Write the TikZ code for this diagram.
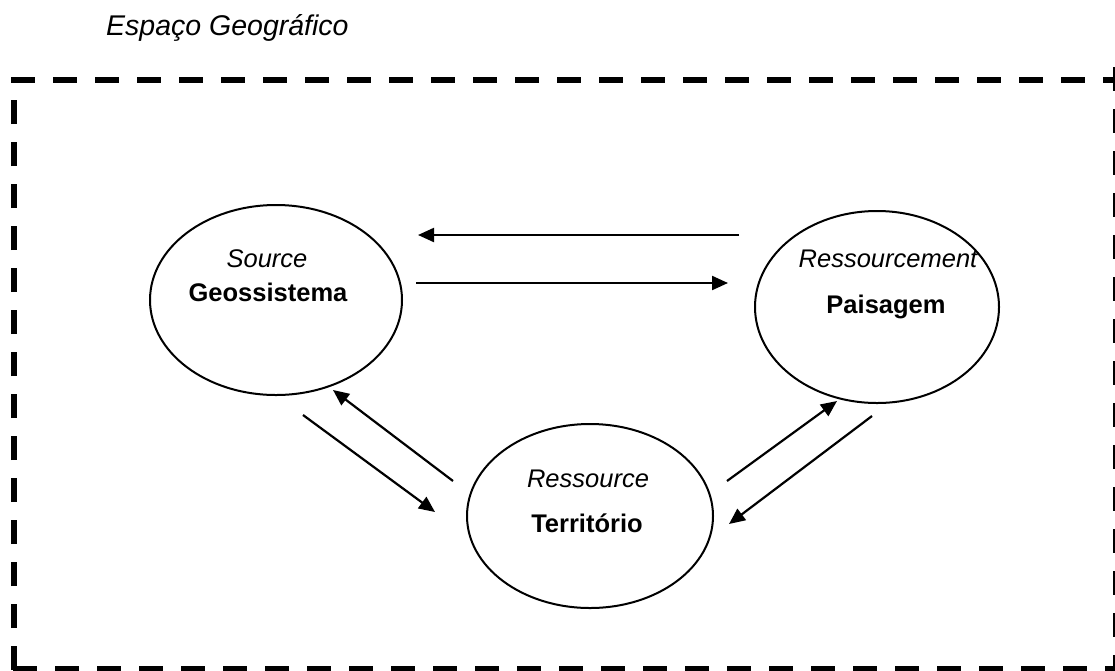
\documentclass[tikz,border=0pt]{standalone}
\usepackage{fontspec}
\setmainfont{Liberation Sans}
\usetikzlibrary{shapes.geometric,arrows.meta}
\begin{document}
\begin{tikzpicture}[x=1pt,y=-1pt,
  lbl/.style={inner sep=0pt,anchor=base,font=\fontsize{25.5}{30}\selectfont},
  oval/.style={draw,ellipse,line width=2pt,inner sep=0pt},
  conn/.style={line width=2.2pt,-{Triangle[length=16pt,width=14pt]}},
  border/.style={line width=5.5pt,dash pattern=on 24pt off 18pt}]
\useasboundingbox (0,0) rectangle (1115,670);
\fill[white] (0,0) rectangle (1115,670);
% title
\node[lbl,anchor=base west,font=\fontsize{28.5}{33}\selectfont] (title) at (106,35) {\itshape Espaço Geográfico};
% dashed frame
\coordinate (tl) at (11,80);  \coordinate (tr) at (1130,80);
\coordinate (rt) at (1116,67); \coordinate (rb) at (1116,680);
\coordinate (lb) at (14,670); \coordinate (lt) at (14,77);
\coordinate (bl) at (13,669); \coordinate (br) at (1130,669);
\draw[border] (tl) -- (tr);
\draw[border] (rt) -- (rb);
\draw[border] (lb) -- (lt);
\draw[border] (bl) -- (br);
% ellipses
\node[oval,minimum width=252pt,minimum height=190pt] (geo) at (276,300) {};
\node[oval,minimum width=244pt,minimum height=192pt] (pai) at (877,307) {};
\node[oval,minimum width=246pt,minimum height=184pt] (ter) at (590,516) {};
% texts
\node[lbl] (src) at (267,267) {\itshape Source};
\node[lbl] (geot) at (268,301) {\bfseries Geossistema};
\node[lbl] (rsm) at (888,267) {\itshape Ressourcement};
\node[lbl] (pait) at (886,313) {\bfseries Paisagem};
\node[lbl] (rss) at (588,487) {\itshape Ressource};
\node[lbl] (tert) at (587,532) {\bfseries Território};
% arrows
\coordinate (a1s) at (739,235); \coordinate (a1e) at (418,235);
\coordinate (a2s) at (416,283); \coordinate (a2e) at (728,283);
\coordinate (a3s) at (453,481); \coordinate (a3e) at (333,390);
\coordinate (a4s) at (303,415); \coordinate (a4e) at (435,512);
\coordinate (a5s) at (727,481); \coordinate (a5e) at (837,401);
\coordinate (a6s) at (872,416); \coordinate (a6e) at (729,524);
\draw[conn] (a1s) -- (a1e);
\draw[conn] (a2s) -- (a2e);
\draw[conn] (a3s) -- (a3e);
\draw[conn] (a4s) -- (a4e);
\draw[conn] (a5s) -- (a5e);
\draw[conn] (a6s) -- (a6e);
\end{tikzpicture}
\end{document}
